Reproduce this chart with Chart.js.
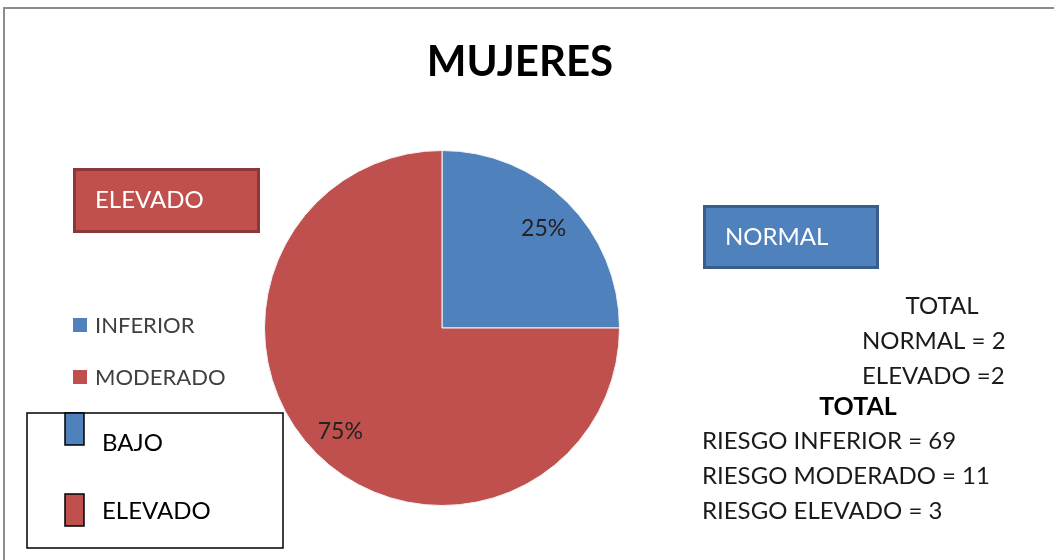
<!DOCTYPE html>
<html>
<head>
<meta charset="utf-8">
<script src="https://cdn.jsdelivr.net/npm/chart.js@4.4.0/dist/chart.umd.min.js"></script>
<style>
  body { margin: 0; background: #fff; }
  #mycanvas { display: block; }
</style>
</head>
<body>
<canvas id="mycanvas" width="1054" height="560"></canvas>
<script>
// datos
var categorias = ['INFERIOR', 'MODERADO'];
var valores = [25, 75];
var colores = ['#4F81BD', '#C0504D'];

var totalArriba = ['TOTAL', 'NORMAL = 2', 'ELEVADO =2'];
var totalRiesgo = ['RIESGO INFERIOR = 69', 'RIESGO MODERADO = 11', 'RIESGO ELEVADO = 3'];
var claves = ['BAJO', 'ELEVADO'];

var FONT = 'Lato, "Open Sans", sans-serif';

function caja(ctx, x, y, w, h, fill, stroke, txt, tx) {
	ctx.save();
	ctx.fillStyle = fill;
	ctx.fillRect(x, y, w, h);
	ctx.lineWidth = 3;
	ctx.strokeStyle = stroke;
	ctx.strokeRect(x + 1.5, y + 1.5, w - 3, h - 3);
	ctx.fillStyle = '#fff';
	ctx.font = '24px ' + FONT;
	ctx.textBaseline = 'middle';
	ctx.fillText(txt, tx, y + h / 2);
	ctx.restore();
}

var extras = {
	id: 'extras',
	beforeDraw: function(chart) {
		var ctx = chart.ctx;
		ctx.save();
		ctx.fillStyle = '#fff';
		ctx.fillRect(0, 0, chart.width, chart.height);
		ctx.strokeStyle = '#8c8c8c';
		ctx.lineWidth = 2;
		ctx.strokeRect(4, 8, chart.width + 20, chart.height + 20);
		ctx.restore();
	},
	afterDraw: function(chart) {
		var ctx = chart.ctx;
		ctx.save();

		// titulo
		ctx.fillStyle = '#000';
		ctx.font = 'bold 42px ' + FONT;
		ctx.textAlign = 'center';
		ctx.textBaseline = 'alphabetic';
		ctx.fillText('MUJERES', 520, 76);

		// porcentajes
		var meta = chart.getDatasetMeta(0);
		var suma = valores.reduce(function(a, b) { return a + b; }, 0);
		ctx.font = '23px ' + FONT;
		ctx.fillStyle = '#222';
		ctx.textBaseline = 'middle';
		meta.data.forEach(function(arc, i) {
			var p = arc.getProps(['x', 'y', 'startAngle', 'endAngle', 'outerRadius'], true);
			var mid = (p.startAngle + p.endAngle) / 2;
			var r = p.outerRadius * 0.81;
			ctx.fillText(Math.round(valores[i] / suma * 100) + '%', p.x + Math.cos(mid) * r, p.y + Math.sin(mid) * r + 2);
		});

		// leyenda
		ctx.textAlign = 'left';
		ctx.font = '22px ' + FONT;
		categorias.forEach(function(c, i) {
			var y = 325 + i * 52;
			ctx.fillStyle = colores[i];
			ctx.fillRect(73, y - 7, 14, 14);
			ctx.fillStyle = '#404040';
			ctx.fillText(c, 95, y + 1);
		});

		// cajas
		caja(ctx, 73, 168, 187, 65, colores[1], '#8C3836', 'ELEVADO', 95);
		caja(ctx, 703, 205, 176, 64, colores[0], '#385D8A', 'NORMAL', 725);

		// recuadro de claves
		ctx.lineWidth = 1.5;
		ctx.strokeStyle = '#000';
		ctx.strokeRect(27, 413, 256, 135);
		ctx.font = '24px ' + FONT;
		claves.forEach(function(k, i) {
			var y0 = i === 0 ? 413 : 494;
			ctx.fillStyle = colores[i];
			ctx.fillRect(65, y0, 19, 32);
			ctx.strokeRect(65, y0, 19, 32);
			ctx.fillStyle = '#000';
			ctx.fillText(k, 102, i === 0 ? 443 : 511);
		});

		// totales
		ctx.fillStyle = '#1a1a1a';
		ctx.font = '24px ' + FONT;
		ctx.textAlign = 'center';
		ctx.fillText(totalArriba[0], 942, 306);
		ctx.textAlign = 'left';
		ctx.fillText(totalArriba[1], 862, 341);
		ctx.fillText(totalArriba[2], 862, 376);
		ctx.textAlign = 'center';
		ctx.fillStyle = '#000';
		ctx.font = 'bold 25px ' + FONT;
		ctx.fillText('TOTAL', 858, 407);
		ctx.textAlign = 'left';
		ctx.fillStyle = '#1a1a1a';
		ctx.font = '24px ' + FONT;
		totalRiesgo.forEach(function(t, i) {
			ctx.fillText(t, 702, 441 + i * 35);
		});
		ctx.restore();
	}
};

var ctx = document.getElementById('mycanvas');
var pieChart = new Chart(ctx, {
	type: 'pie',
	data: {
		labels: categorias,
		datasets: [{
			data: valores,
			backgroundColor: colores,
			borderColor: '#f4f4f4',
			borderWidth: 1
		}]
	},
	options: {
		responsive: false,
		animation: false,
		layout: { padding: { left: 264, right: 434, top: 150, bottom: 54 } },
		plugins: {
			legend: { display: false },
			tooltip: { enabled: false }
		}
	},
	plugins: [extras]
});
</script>
</body>
</html>
